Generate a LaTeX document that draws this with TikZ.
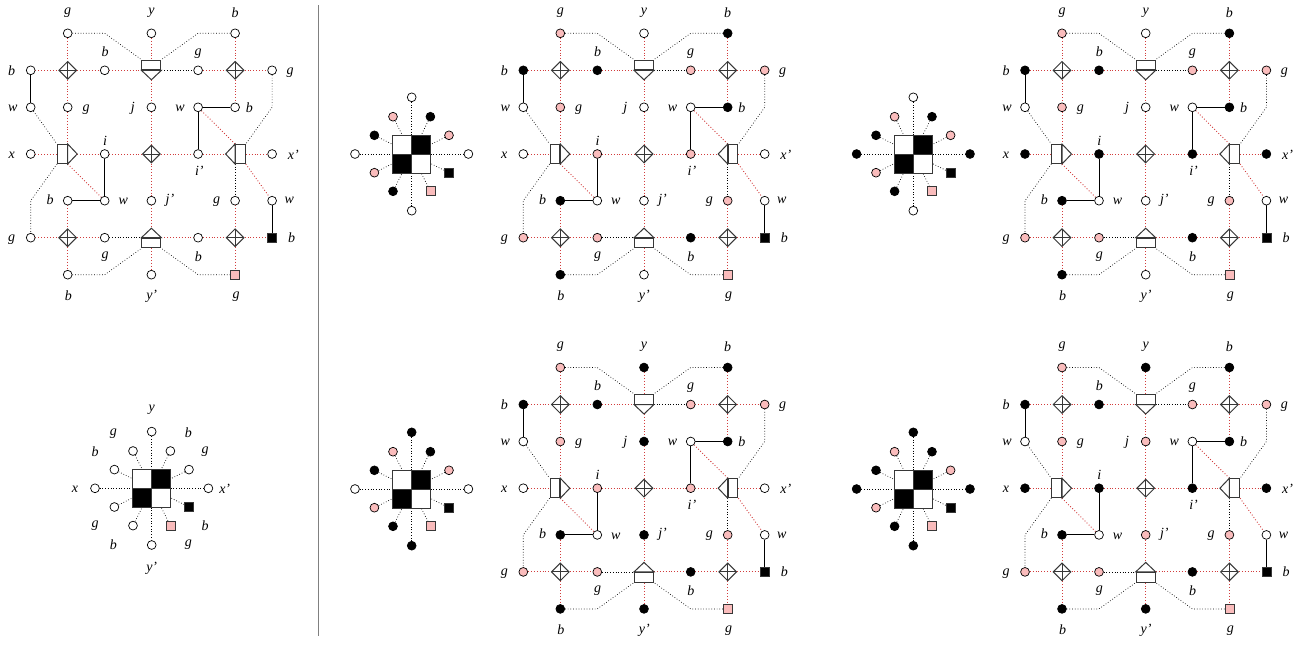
\documentclass[tikz,border=0pt]{standalone}
\usepackage{fontspec}
\setmainfont{Liberation Serif}
\usetikzlibrary{shapes.geometric}
\pgfdeclarelayer{bg}
\pgfsetlayers{bg,main}
\definecolor{pk}{RGB}{250,188,188}
\definecolor{rd}{RGB}{210,60,60}
\definecolor{bd}{RGB}{55,55,55}
\definecolor{sep}{RGB}{128,128,128}
\tikzset{
 dot/.style={circle, draw=black, line width=0.7pt, minimum size=8.8pt, inner sep=0pt},
 sqn/.style={rectangle, draw=bd, line width=0.7pt, minimum size=9pt, inner sep=0pt},
 dia/.style={diamond, draw=bd, line width=1pt, fill=white, minimum width=18pt, minimum height=18pt, inner sep=0pt,
   path picture={\draw[bd, line width=0.9pt] (path picture bounding box.north) -- (path picture bounding box.south) (path picture bounding box.west) -- (path picture bounding box.east);}},
 hbox/.style={rectangle, draw=bd, line width=1pt, fill=white, minimum width=19pt, minimum height=9.7pt, inner sep=0pt},
 vbox/.style={rectangle, draw=bd, line width=1pt, fill=white, minimum width=9.7pt, minimum height=19pt, inner sep=0pt},
 tri/.style={draw=bd, line width=1pt, fill=white, line join=miter},
 rdl/.style={draw=rd, dotted, line width=0.9pt},
 bkd/.style={draw=black, dotted, line width=0.7pt},
 sol/.style={draw=black, line width=1pt},
 lab/.style={font=\fontsize{14}{16}\selectfont\itshape, inner sep=0pt},
 cell/.style={rectangle, draw=bd, line width=0.9pt, minimum size=19pt, inner sep=0pt},
}
% #1 name, #2 ox, #3 oy, #4 g, #5 b, #6 x, #7 i, #8 y, #9 j
\newcommand\gadget[9]{%
\begin{scope}[shift={(#2,#3)}]
\node[dot,fill=#4] (#1-10) at (37,0) {};
\node[dot,fill=#8] (#1-30) at (120.7,0) {};
\node[dot,fill=#5] (#1-50) at (204.4,0) {};
\node[dot,fill=#5] (#1-01) at (0,37) {};
\node[dia] (#1-11) at (37,37) {};
\node[dot,fill=#5] (#1-21) at (74,37) {};
\node[hbox,anchor=south] (#1-31) at (120.7,37) {};
\coordinate (#1-31t) at (120.7,46.5);
\node[dot,fill=#4] (#1-41) at (167.4,37) {};
\node[dia] (#1-51) at (204.4,37) {};
\node[dot,fill=#4] (#1-61) at (241.4,37) {};
\node[dot,fill=white] (#1-02) at (0,74) {};
\node[dot,fill=#4] (#1-12) at (37,74) {};
\node[dot,fill=#9] (#1-32) at (120.7,74) {};
\node[dot,fill=white] (#1-42) at (167.4,74) {};
\node[dot,fill=#5] (#1-52) at (204.4,74) {};
\node[dot,fill=#6] (#1-03) at (0,120.7) {};
\node[vbox,anchor=east] (#1-13) at (37,120.7) {};
\coordinate (#1-13t) at (46.5,120.7);
\node[dot,fill=#7] (#1-23) at (74,120.7) {};
\node[dia] (#1-33) at (120.7,120.7) {};
\node[dot,fill=#7] (#1-43) at (167.4,120.7) {};
\node[vbox,anchor=west] (#1-53) at (204.4,120.7) {};
\coordinate (#1-53t) at (194.9,120.7);
\node[dot,fill=#6] (#1-63) at (241.4,120.7) {};
\node[dot,fill=#5] (#1-14) at (37,167.4) {};
\node[dot,fill=white] (#1-24) at (74,167.4) {};
\node[dot,fill=#9] (#1-34) at (120.7,167.4) {};
\node[dot,fill=#4] (#1-54) at (204.4,167.4) {};
\node[dot,fill=white] (#1-64) at (241.4,167.4) {};
\node[dot,fill=#4] (#1-05) at (0,204.4) {};
\node[dia] (#1-15) at (37,204.4) {};
\node[dot,fill=#4] (#1-25) at (74,204.4) {};
\node[hbox,anchor=north] (#1-35) at (120.7,204.4) {};
\coordinate (#1-35t) at (120.7,194.9);
\node[dot,fill=#5] (#1-45) at (167.4,204.4) {};
\node[dia] (#1-55) at (204.4,204.4) {};
\node[sqn,fill=black] (#1-65) at (241.4,204.4) {};
\node[dot,fill=#5] (#1-16) at (37,241.4) {};
\node[dot,fill=#8] (#1-36) at (120.7,241.4) {};
\node[sqn,fill=pk] (#1-56) at (204.4,241.4) {};
\coordinate (#1-k20) at (74,0);
\coordinate (#1-k40) at (167.4,0);
\coordinate (#1-k62) at (241.4,74);
\coordinate (#1-k04) at (0,167.4);
\coordinate (#1-k26) at (74,241.4);
\coordinate (#1-k46) at (167.4,241.4);
\draw[tri] (#1-31.south west) -- (#1-31.south east) -- (#1-31t) -- cycle;
\draw[tri] (#1-13.north east) -- (#1-13.south east) -- (#1-13t) -- cycle;
\draw[tri] (#1-53.north west) -- (#1-53.south west) -- (#1-53t) -- cycle;
\draw[tri] (#1-35.north west) -- (#1-35.north east) -- (#1-35t) -- cycle;
\begin{pgfonlayer}{bg}
\draw[rdl] (#1-01) -- (#1-11) (#1-11) -- (#1-21) (#1-21) -- (#1-31.south west);
\draw[rdl] (#1-41) -- (#1-51) (#1-51) -- (#1-61);
\draw[rdl] (#1-10) -- (#1-11) (#1-11) -- (#1-12) (#1-12) -- (#1-13.north east);
\draw[rdl] (#1-50) -- (#1-51) (#1-51) -- (#1-52);
\draw[rdl] (#1-30) -- (#1-31.north) (#1-31t) -- (#1-32) (#1-32) -- (#1-33) (#1-33) -- (#1-34) (#1-34) -- (#1-35t) (#1-35.south) -- (#1-36);
\draw[rdl] (#1-03) -- (#1-13.west) (#1-13t) -- (#1-23) (#1-23) -- (#1-33) (#1-33) -- (#1-43) (#1-43) -- (#1-53t) (#1-53.east) -- (#1-63);
\draw[rdl] (#1-14) -- (#1-15) (#1-15) -- (#1-16);
\draw[rdl] (#1-54) -- (#1-55) (#1-55) -- (#1-56);
\draw[rdl] (#1-05) -- (#1-15) (#1-15) -- (#1-25);
\draw[rdl] (#1-35.north east) -- (#1-45) (#1-45) -- (#1-55) (#1-55) -- (#1-65);
\draw[rdl] (#1-13.south east) -- (#1-24);
\draw[rdl] (#1-42) -- (#1-53.north west);
\draw[rdl] (#1-53.south east) -- (#1-64);
\draw[bkd] (#1-31.south east) -- (#1-41);
\draw[bkd] (#1-25) -- (#1-35.north west);
\draw[bkd] (#1-53.south west) -- (#1-54);
\draw[bkd] (#1-10) -- (#1-k20) -- (#1-31.north west);
\draw[bkd] (#1-50) -- (#1-k40) -- (#1-31.north east);
\draw[bkd] (#1-02) -- (#1-13.north west);
\draw[bkd] (#1-13.south west) -- (#1-k04) -- (#1-05);
\draw[bkd] (#1-61) -- (#1-k62) -- (#1-53.north east);
\draw[bkd] (#1-16) -- (#1-k26) -- (#1-35.south west);
\draw[bkd] (#1-56) -- (#1-k46) -- (#1-35.south east);
\draw[sol] (#1-01) -- (#1-02);
\draw[sol] (#1-23) -- (#1-24);
\draw[sol] (#1-14) -- (#1-24);
\draw[sol] (#1-42) -- (#1-52);
\draw[sol] (#1-42) -- (#1-43);
\draw[sol] (#1-64) -- (#1-65);
\end{pgfonlayer}
\node[lab] (#1-t1) at (37,-20.5) {g};
\node[lab] (#1-t2) at (120.7,-20.5) {y};
\node[lab] (#1-t3) at (204.4,-21) {b};
\node[lab] (#1-t4) at (-19,37.4) {b};
\node[lab] (#1-t5) at (74.3,18.4) {b};
\node[lab] (#1-t6) at (167.4,20.5) {g};
\node[lab] (#1-t7) at (259.3,39.5) {g};
\node[lab] (#1-t8) at (-18,75) {w};
\node[lab] (#1-t9) at (55.3,76.5) {g};
\node[lab] (#1-t10) at (102,75) {j};
\node[lab] (#1-t11) at (149.3,75) {w};
\node[lab] (#1-t12) at (218.6,74.5) {b};
\node[lab] (#1-t13) at (-19,121.7) {x};
\node[lab] (#1-t14) at (74.3,107.4) {i};
\node[lab] (#1-t15) at (168.6,137.4) {i'};
\node[lab] (#1-t16) at (262.6,121.7) {x'};
\node[lab] (#1-t17) at (19.3,166.7) {b};
\node[lab] (#1-t18) at (92.6,168.4) {w};
\node[lab] (#1-t19) at (139.3,166.7) {j'};
\node[lab] (#1-t20) at (186,168.4) {g};
\node[lab] (#1-t21) at (258.6,167.4) {w};
\node[lab] (#1-t22) at (-19,206.5) {g};
\node[lab] (#1-t23) at (261,204.4) {b};
\node[lab] (#1-t24) at (74.3,223.4) {g};
\node[lab] (#1-t25) at (167.6,223) {b};
\node[lab] (#1-t26) at (37.6,262.7) {b};
\node[lab] (#1-t27) at (121,262.7) {y'};
\node[lab] (#1-t28) at (205.3,263.3) {g};
\end{scope}}
% #1 name, #2 cx, #3 cy, #4 y, #5 x, #6 g, #7 b
\newcommand\starg[7]{%
\begin{scope}[shift={(#2,#3)}]
\node[rectangle, minimum size=38pt, inner sep=0pt] (#1-q) at (0,0) {};
\node[cell,fill=white] (#1-c1) at (-9.5,-9.5) {};
\node[cell,fill=black] (#1-c2) at (9.5,-9.5) {};
\node[cell,fill=black] (#1-c3) at (-9.5,9.5) {};
\node[cell,fill=white] (#1-c4) at (9.5,9.5) {};
\node[dot,fill=#4] (#1-n) at (0,-56.7) {};
\node[dot,fill=#4] (#1-s) at (0,56.7) {};
\node[dot,fill=#5] (#1-w) at (-56.7,0) {};
\node[dot,fill=#5] (#1-e) at (56.7,0) {};
\node[dot,fill=#6] (#1-a) at (-18.7,-37.3) {};
\node[dot,fill=#7] (#1-b) at (18.7,-37.3) {};
\node[dot,fill=#7] (#1-c) at (-37.3,-18.7) {};
\node[dot,fill=#6] (#1-d) at (37.3,-18.7) {};
\node[dot,fill=#6] (#1-f) at (-37.3,18.7) {};
\node[sqn,fill=black] (#1-h) at (37.3,18.7) {};
\node[dot,fill=#7] (#1-i) at (-18.7,37.3) {};
\node[sqn,fill=pk] (#1-j) at (18.7,37.3) {};
\begin{pgfonlayer}{bg}
\foreach \s in {n,s,w,e,a,b,c,d,f,h,i,j} \draw[bkd] (#1-\s) -- (#1-q);
\end{pgfonlayer}
\end{scope}}
\begin{document}
\begin{tikzpicture}[x=1pt,y=-1pt]
\useasboundingbox (0,0) rectangle (1307,646);
\gadget{A}{30.7}{33.3}{white}{white}{white}{white}{white}{white}
\gadget{B}{523.3}{33.3}{pk}{black}{white}{pk}{white}{white}
\gadget{C}{1025}{33.3}{pk}{black}{black}{black}{white}{white}
\gadget{D}{523.3}{367.5}{pk}{black}{white}{pk}{black}{black}
\gadget{E}{1025}{367.5}{pk}{black}{black}{black}{black}{pk}
\starg{S1}{151.7}{488.3}{white}{white}{white}{white}
\starg{S2}{411.7}{154}{white}{white}{pk}{black}
\starg{S3}{913.3}{154}{white}{black}{pk}{black}
\starg{S4}{411.7}{489}{black}{white}{pk}{black}
\starg{S5}{913.3}{489}{black}{black}{pk}{black}
\begin{scope}[shift={(151.7,488.3)}]
\node[lab] (L1) at (0,-78.3) {y};
\node[lab] (L2) at (-38.4,-55) {g};
\node[lab] (L3) at (36.6,-55.5) {b};
\node[lab] (L4) at (-56.7,-37) {b};
\node[lab] (L5) at (53.3,-36.6) {g};
\node[lab] (L6) at (-76.7,1) {x};
\node[lab] (L7) at (73,1) {x'};
\node[lab] (L8) at (-56.7,37.7) {g};
\node[lab] (L9) at (53.3,37.2) {b};
\node[lab] (L10) at (-38.4,56.2) {b};
\node[lab] (L11) at (36.6,56.7) {g};
\node[lab] (L12) at (0,79.7) {y'};
\end{scope}
\coordinate (sepA) at (318.7,5);
\coordinate (sepB) at (318.7,636);
\draw[sep, line width=1.3pt] (sepA) -- (sepB);
\end{tikzpicture}
\end{document}
